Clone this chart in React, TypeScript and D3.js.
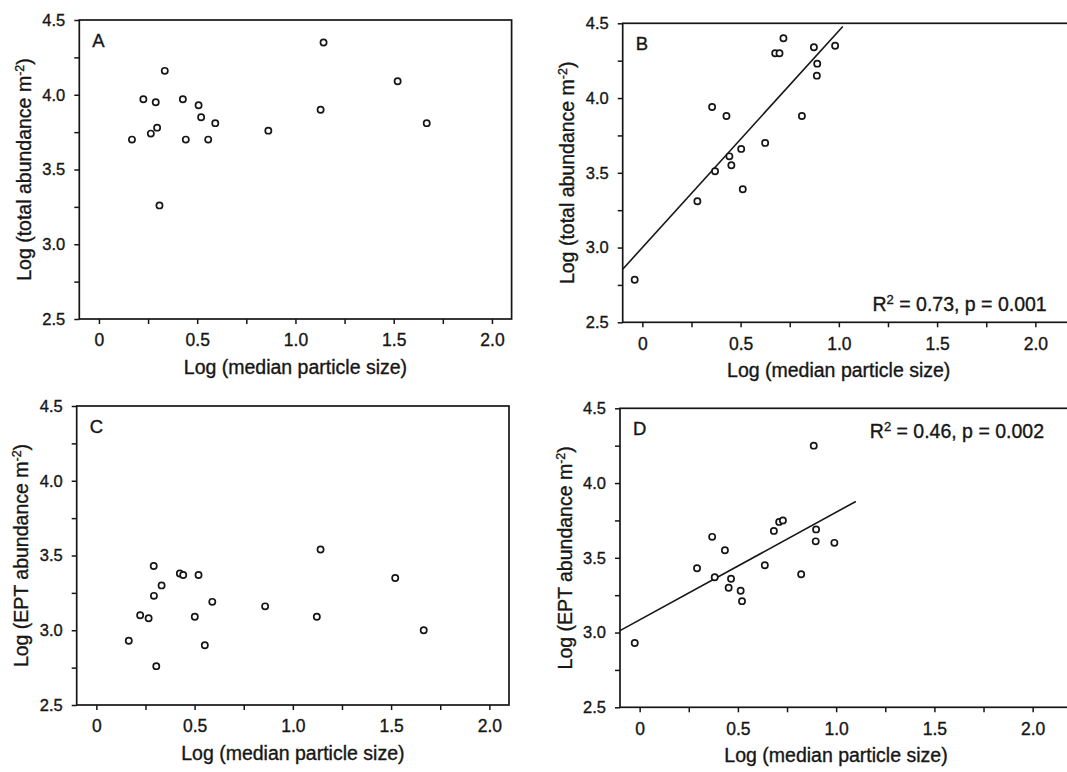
import React, { useEffect, useRef } from 'react';
import * as d3 from 'd3';

// Log (median particle size) for each site
const sizeAC = [0.168, 0.226, 0.289, 0.264, 0.296, 0.335, 0.308, 0.427, 0.442, 0.507, 0.52, 0.556, 0.592, 0.862, 1.128, 1.143, 1.52, 1.668];
const totalA = [3.7, 3.97, 3.95, 3.74, 3.78, 4.16, 3.26, 3.97, 3.7, 3.93, 3.85, 3.7, 3.81, 3.76, 3.9, 4.35, 4.09, 3.81];

const sizeC = [0.165, 0.223, 0.266, 0.292, 0.293, 0.332, 0.305, 0.425, 0.442, 0.52, 0.501, 0.552, 0.59, 0.859, 1.122, 1.141, 1.521, 1.666];
const eptC = [2.93, 3.1, 3.08, 3.43, 3.23, 3.3, 2.76, 3.38, 3.37, 3.37, 3.09, 2.9, 3.19, 3.16, 3.09, 3.54, 3.35, 3.0];

const sizeB = [-0.039, 0.28, 0.355, 0.37, 0.428, 0.443, 0.453, 0.503, 0.511, 0.625, 0.676, 0.698, 0.718, 0.812, 0.873, 0.89, 0.888, 0.981];
const totalB = [2.785, 3.31, 3.94, 3.51, 3.88, 3.61, 3.55, 3.66, 3.39, 3.7, 4.3, 4.3, 4.4, 3.88, 4.34, 4.23, 4.15, 4.35];

const sizeD = [-0.025, 0.292, 0.369, 0.382, 0.434, 0.453, 0.465, 0.514, 0.521, 0.637, 0.683, 0.71, 0.729, 0.822, 0.886, 0.898, 0.896, 0.991];
const eptD = [2.93, 3.43, 3.64, 3.37, 3.55, 3.3, 3.36, 3.28, 3.21, 3.45, 3.68, 3.74, 3.75, 3.39, 4.25, 3.69, 3.61, 3.6];

// fitted lines: [intercept, slope, xStart, xEnd]
const fitB = [3.0, 1.45, -0.1, 1.02];
const fitD = [3.085, 0.72, -0.1, 1.1];

const xTicks = [0, 0.25, 0.5, 0.75, 1, 1.25, 1.5, 1.75, 2];
const yTicks = [2.5, 2.75, 3, 3.25, 3.5, 3.75, 4, 4.25, 4.5];

const FONT = '"Liberation Sans", Arial, Helvetica, sans-serif';
const INK = '#161616';
const TXT = { fontFamily: FONT, fill: INK, stroke: INK, strokeWidth: 0.35 };

type PanelProps = {
  left: number;
  top: number;
  xMax: number;
  letter: string;
  yLabel: string;
  xs: number[];
  ys: number[];
  fit?: number[];
  stat?: string;
  statAtTop?: boolean;
};

const Panel = ({ left, top, xMax, letter, yLabel, xs, ys, fit, stat, statAtTop }: PanelProps) => {
  const xRef = useRef<SVGGElement>(null);
  const yRef = useRef<SVGGElement>(null);
  const unit = 196.5;
  const h = 299;
  const w = (xMax + 0.1) * unit;
  const x = d3.scaleLinear().domain([-0.1, xMax]).range([0, w]);
  const y = d3.scaleLinear().domain([2.5, 4.5]).range([h, 0]);

  useEffect(() => {
    const xa = d3.axisBottom(x)
      .tickValues(xTicks)
      .tickSize(5)
      .tickSizeOuter(0)
      .tickPadding(10)
      .tickFormat((d: any) => (d % 0.5 === 0 ? (d === 0 ? '0' : d3.format('.1f')(d)) : ''));
    const ya = d3.axisLeft(y)
      .tickValues(yTicks)
      .tickSize(5)
      .tickSizeOuter(0)
      .tickPadding(9)
      .tickFormat((d: any) => (d % 0.5 === 0 ? d3.format('.1f')(d) : ''));
    const gx = d3.select(xRef.current);
    gx.selectAll('*').remove();
    gx.call(xa as any);
    const gy = d3.select(yRef.current);
    gy.selectAll('*').remove();
    gy.call(ya as any);
    [gx, gy].forEach((g) => {
      g.select('.domain').remove();
      g.selectAll('line').attr('stroke', INK).attr('stroke-width', 1.5);
      g.selectAll('text')
        .attr('fill', INK)
        .attr('stroke', INK)
        .attr('stroke-width', 0.35)
        .attr('font-family', FONT);
    });
    gx.selectAll('text').attr('font-size', 17.5);
    gy.selectAll('text').attr('font-size', 16.5);
  }, []);

  const line = d3.line<number>().x((v) => x(v)).y((v) => y(fit![0] + fit![1] * v));

  return (
    <g transform={`translate(${left},${top})`}>
      <rect x={0} y={0} width={w} height={h} fill="none" stroke={INK} strokeWidth={1.7} />
      <g ref={xRef} transform={`translate(0,${h})`} />
      <g ref={yRef} />
      <text x={13} y={27} fontSize={18.5} {...TXT}>{letter}</text>
      {fit && (
        <path d={line([fit[2], fit[3]]) || ''} fill="none" stroke={INK} strokeWidth={1.6} />
      )}
      {xs.map((v, i) => (
        <circle key={i} cx={x(v)} cy={y(ys[i])} r={3.1} fill="white" stroke={INK} strokeWidth={1.7} />
      ))}
      {stat && (
        <text x={424} y={statAtTop ? 30 : h - 11} textAnchor="end" fontSize={19.5} {...TXT}>
          R<tspan fontSize={13} dy={-7}>2</tspan>
          <tspan dy={7}>{stat}</tspan>
        </text>
      )}
      <text x={w >= 440 ? 216 : w / 2} y={h + 55} textAnchor="middle" fontSize={19.5} {...TXT}>
        Log (median particle size)
      </text>
      <text
        transform={`translate(-48.5,${h / 2}) rotate(-90)`}
        textAnchor="middle"
        fontSize={19.5}
        {...TXT}
      >
        {yLabel}
        <tspan fontSize={12.5} dy={-7}>-2</tspan>
        <tspan dy={7}>)</tspan>
      </text>
    </g>
  );
};

export default function App() {
  return (
    <svg
      width={1067}
      height={772}
      style={{ position: 'absolute', left: 0, top: 0, background: 'white' }}
    >
      <rect width={1067} height={772} fill="white" />
      <Panel left={79.3} top={20} xMax={2.1} letter="A" yLabel="Log (total abundance m" xs={sizeAC} ys={totalA} />
      <Panel
        left={622.7}
        top={23.3}
        xMax={2.2}
        letter="B"
        yLabel="Log (total abundance m"
        xs={sizeB}
        ys={totalB}
        fit={fitB}
        stat=" = 0.73, p = 0.001"
      />
      <Panel left={76.7} top={406} xMax={2.1} letter="C" yLabel="Log (EPT abundance m" xs={sizeC} ys={eptC} />
      <Panel
        left={620}
        top={408.3}
        xMax={2.2}
        letter="D"
        yLabel="Log (EPT abundance m"
        xs={sizeD}
        ys={eptD}
        fit={fitD}
        stat=" = 0.46, p = 0.002"
        statAtTop
      />
    </svg>
  );
}
